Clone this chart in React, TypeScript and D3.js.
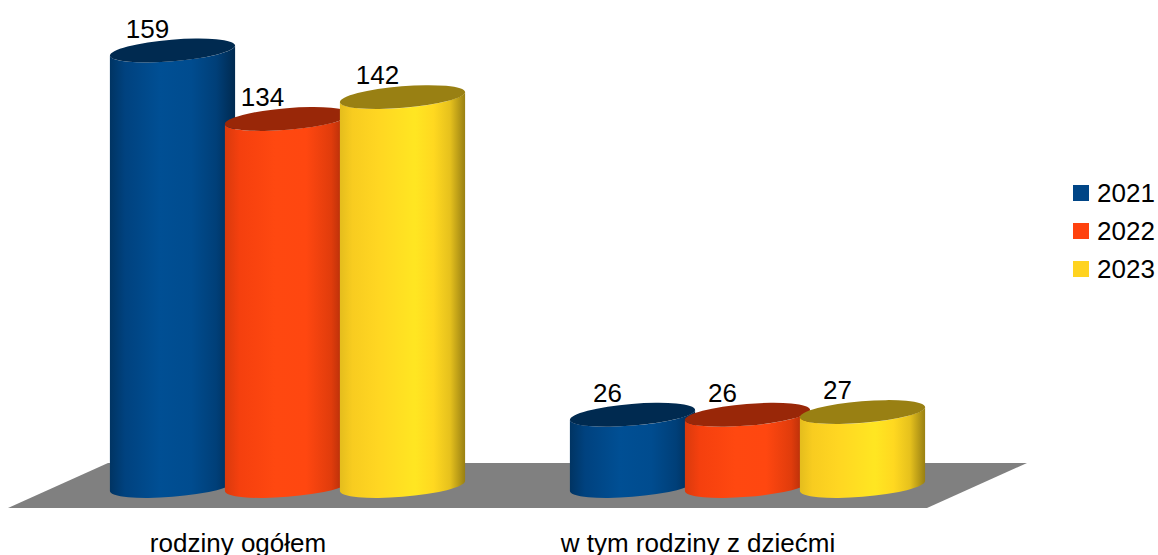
import * as d3 from 'd3'

const categories = ['rodziny ogółem', 'w tym rodziny z dziećmi']
const years = ['2021', '2022', '2023']
const values2021 = [159, 26]
const values2022 = [134, 26]
const values2023 = [142, 27]
const seriesValues = [values2021, values2022, values2023]

const legendColors = ['#004586', '#ff420e', '#ffd320']
const topColors = ['#002a50', '#992708', '#998013']
const gradients = [
  [['0', '#003463'], ['0.12', '#00427f'], ['0.4', '#004f94'], ['0.65', '#004c8f'], ['0.85', '#003f78'], ['1', '#002a50']],
  [['0', '#d93a0d'], ['0.12', '#f5400e'], ['0.4', '#ff4810'], ['0.65', '#ff4710'], ['0.85', '#e03c0c'], ['1', '#992708']],
  [['0', '#e4bd1d'], ['0.1', '#f8cc20'], ['0.3', '#ffd622'], ['0.6', '#ffe622'], ['0.75', '#ffd820'], ['0.88', '#e6c11d'], ['1', '#998013']],
]

const WIDTH = 1158
const HEIGHT = 555
const FONT = '"Liberation Sans", Arial, sans-serif'

// Tilted ellipse of the cylinder caps
const RX = 62.8
const RY = 10.8
const TILT = (-4.7 * Math.PI) / 180
const halfWidth = Math.sqrt(RX * RX * Math.cos(TILT) ** 2 + RY * RY * Math.sin(TILT) ** 2)
const sideDy = ((RX * RX - RY * RY) * Math.sin(TILT) * Math.cos(TILT)) / halfWidth
const tiltDeg = (TILT * 180) / Math.PI

const x0 = d3.scaleBand().domain(categories).range([57.5, 977.5])
const x1 = d3.scalePoint().domain(years).range([-115, 115])
const y = d3.scaleLinear().domain([0, 159]).range([486, 50.5])

const floorLine = d3.line()
const floorPoints: [number, number][] = [[8, 508], [108, 463], [1027, 463], [927, 508]]

function cylinderBody(cx: number, top: number, bottom: number) {
  const l = cx - halfWidth
  const r = cx + halfWidth
  return [
    `M${l},${top - sideDy}`,
    `L${l},${bottom - sideDy}`,
    `A${RX},${RY} ${tiltDeg} 0 0 ${r},${bottom + sideDy}`,
    `L${r},${top + sideDy}`,
    `A${RX},${RY} ${tiltDeg} 0 1 ${l},${top - sideDy}`,
    'Z',
  ].join(' ')
}

export default function App() {
  const categoryCenter = (c: string) => x0(c)! + x0.bandwidth() / 2
  return (
    <svg
      width={WIDTH}
      height={HEIGHT}
      viewBox={`0 0 ${WIDTH} ${HEIGHT}`}
      style={{ position: 'absolute', left: 0, top: 0, display: 'block', background: '#fff' }}
      fontFamily={FONT}
    >
      <defs>
        {gradients.map((stops, i) => (
          <linearGradient key={i} id={`body-${i}`} x1="0" x2="1" y1="0" y2="0">
            {stops.map(([offset, color]) => (
              <stop key={offset} offset={offset} stopColor={color} />
            ))}
          </linearGradient>
        ))}
      </defs>

      <path d={floorLine(floorPoints) + 'Z'} fill="#808080" />

      {categories.map((c, ci) => (
        <g key={c}>
          {years.map((yr, si) => {
            const cx = categoryCenter(c) + x1(yr)!
            const v = seriesValues[si][ci]
            const top = y(v)
            return (
              <g key={yr}>
                <path d={cylinderBody(cx, top, y(0))} fill={`url(#body-${si})`} />
                <ellipse
                  cx={cx}
                  cy={top}
                  rx={RX}
                  ry={RY}
                  transform={`rotate(${tiltDeg} ${cx} ${top})`}
                  fill={topColors[si]}
                />
              </g>
            )
          })}
        </g>
      ))}

      {categories.map((c, ci) =>
        years.map((yr, si) => {
          const v = seriesValues[si][ci]
          return (
            <text
              key={c + yr}
              x={categoryCenter(c) + x1(yr)! - 25}
              y={y(v) - 13}
              textAnchor="middle"
              fontSize={26}
              fill="#000"
            >
              {v}
            </text>
          )
        })
      )}

      {categories.map((c) => (
        <text key={c} x={categoryCenter(c) - 49.5} y={552} textAnchor="middle" fontSize={26} fill="#000">
          {c}
        </text>
      ))}

      {years.map((yr, i) => (
        <g key={yr} transform={`translate(1073,${185 + i * 38})`}>
          <rect width={16} height={16} fill={legendColors[i]} />
          <text x={24} y={17} fontSize={26} fill="#000">
            {yr}
          </text>
        </g>
      ))}
    </svg>
  )
}
